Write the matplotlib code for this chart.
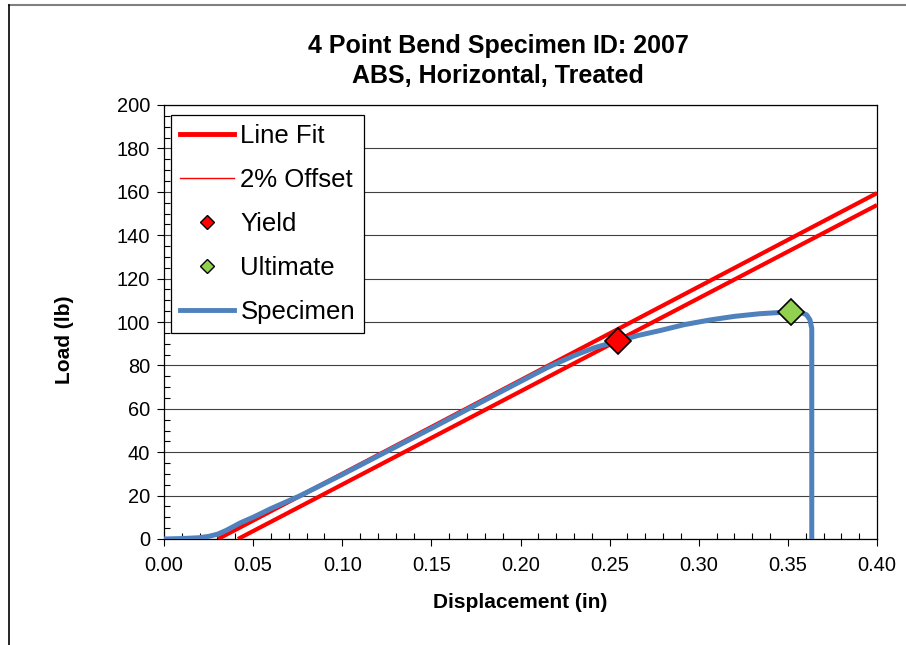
import numpy as np
import matplotlib
matplotlib.use('Agg')
import matplotlib.pyplot as plt
from matplotlib.lines import Line2D
from matplotlib.ticker import MultipleLocator, FormatStrFormatter

plt.rcParams['font.family'] = ['Liberation Sans', 'DejaVu Sans']

# ---- data ----
spec_x = [0.000, 0.010, 0.020, 0.025, 0.030, 0.035, 0.043, 0.050, 0.060, 0.076,
          0.100, 0.150, 0.200, 0.215, 0.230, 0.242, 0.2547, 0.266, 0.278, 0.292,
          0.306, 0.320, 0.334, 0.3518, 0.3575, 0.3605, 0.3624, 0.3634, 0.3634]
spec_y = [0.0, 0.2, 0.6, 1.2, 2.2, 4.0, 7.5, 10.0, 14.0, 19.8,
          29.7, 51.0, 72.6, 79.0, 84.5, 88.3, 91.2, 93.8, 96.0, 98.8,
          100.9, 102.6, 103.8, 104.7, 104.4, 103.3, 101.0, 97.0, 0.0]

line_fit_x = [0.0303, 0.40]
line_fit_y = [0.0, 159.4]
offset_x = [0.0415, 0.40]
offset_y = [0.0, 153.9]

yield_pt = (0.2547, 91.2)
ultimate_pt = (0.3518, 104.7)

title_lines = ['4 Point Bend Specimen ID: 2007', 'ABS, Horizontal, Treated']
legend_labels = ['Line Fit', '2% Offset', 'Yield', 'Ultimate', 'Specimen']

RED = '#FF0000'
BLUE = '#4F81BD'
GREEN = '#92D050'

W, H = 906, 645
fig = plt.figure(figsize=(W / 100, H / 100), dpi=100)
ax = fig.add_axes([164 / W, (H - 539) / H, 713 / W, 434 / H])

# lines
ax.plot(line_fit_x, line_fit_y, color=RED, lw=3, solid_capstyle='butt', zorder=3)
ax.plot(offset_x, offset_y, color=RED, lw=3, solid_capstyle='butt', zorder=3)
ax.plot(spec_x, spec_y, color=BLUE, lw=3.6, zorder=4)
ax.plot(*yield_pt, marker='D', ms=13, mfc=RED, mec='black', mew=1.2, zorder=5)
ax.plot(*ultimate_pt, marker='D', ms=13, mfc=GREEN, mec='black', mew=1.2, zorder=5)

ax.set_xlim(0, 0.40)
ax.set_ylim(0, 200)
ax.xaxis.set_major_locator(MultipleLocator(0.05))
ax.xaxis.set_minor_locator(MultipleLocator(0.01))
ax.yaxis.set_major_locator(MultipleLocator(20))
ax.yaxis.set_minor_locator(MultipleLocator(5))
ax.xaxis.set_major_formatter(FormatStrFormatter('%.2f'))
ax.yaxis.set_major_formatter(FormatStrFormatter('%d'))

ax.grid(axis='y', which='major', color='#404040', lw=0.8)
ax.set_axisbelow(True)
ax.tick_params(which='major', direction='out', length=5, width=0.8,
               labelsize=14.4, pad=5)
ax.tick_params(which='minor', direction='in', length=4, width=0.8)
ax.tick_params(axis='x', which='major', pad=7)
for s in ax.spines.values():
    s.set_color('black')
    s.set_linewidth(0.9)

# legend
handles = [
    Line2D([], [], color=RED, lw=3.5),
    Line2D([], [], color=RED, lw=1),
    Line2D([], [], ls='none', marker='D', ms=7, mfc=RED, mec='black', mew=1),
    Line2D([], [], ls='none', marker='D', ms=7, mfc=GREEN, mec='black', mew=1),
    Line2D([], [], color=BLUE, lw=3.5),
]
leg = ax.legend(handles, legend_labels, loc='upper left',
                bbox_to_anchor=(7 / 713, 424 / 434), borderaxespad=0,
                fontsize=18.5, fancybox=False, framealpha=1, edgecolor='black',
                handlelength=2.1, handletextpad=0.25, labelspacing=0.78,
                borderpad=0.35)
leg.get_frame().set_linewidth(0.9)

# titles and axis labels
fig.text(498 / W, 1 - 53 / H, title_lines[0], ha='center', va='baseline',
         fontsize=18, fontweight='bold')
fig.text(498 / W, 1 - 83 / H, title_lines[1], ha='center', va='baseline',
         fontsize=18, fontweight='bold')
fig.text(520 / W, 1 - 608 / H, 'Displacement (in)', ha='center', va='baseline',
         fontsize=15, fontweight='bold')
fig.text(65 / W, 1 - 340 / H, 'Load (lb)', ha='center', va='center',
         rotation=90, fontsize=15, fontweight='bold')

# chart-area border (cropped on right and bottom)
fig.add_artist(Line2D([9 / W, 1.0], [1 - 4.5 / H, 1 - 4.5 / H],
                      transform=fig.transFigure, color='#808080', lw=1.5))
fig.add_artist(Line2D([9 / W, 9 / W], [0.0, 1 - 4.5 / H],
                      transform=fig.transFigure, color='black', lw=1.2))

fig.savefig('out.png', dpi=100)
